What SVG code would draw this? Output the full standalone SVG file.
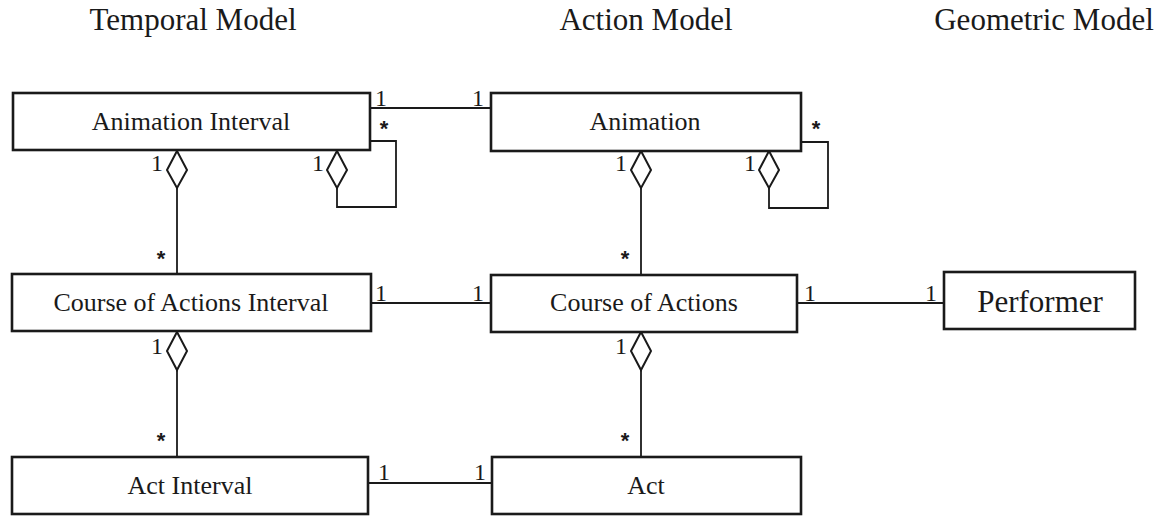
<svg xmlns="http://www.w3.org/2000/svg" width="1170" height="516" viewBox="0 0 1170 516">
  <style>
    .title { font-family: "Liberation Serif", "Times New Roman", serif; font-size: 31px; fill: #1a1a1a; text-anchor: middle; }
    .box rect { fill: #ffffff; stroke: #1a1a1a; stroke-width: 2.6; }
    .box text { font-family: "Liberation Serif", "Times New Roman", serif; font-size: 26px; fill: #1a1a1a; text-anchor: middle; }
    .big text { font-size: 31px; }
    .conn line, .conn polyline { fill: none; stroke: #1a1a1a; stroke-width: 1.8; }
    .conn polygon { fill: #ffffff; stroke: #1a1a1a; stroke-width: 2; }
    .mult { font-family: "Liberation Serif", "Times New Roman", serif; font-size: 24px; fill: #1a1a1a; text-anchor: middle; }
    .star { font-family: "Liberation Sans", Arial, sans-serif; font-size: 22px; font-weight: bold; fill: #1a1a1a; text-anchor: middle; }
  </style>
  <defs>
    <!-- aggregation diamond, top vertex at origin -->
    <polygon id="agg" points="0,0 10,19 0,37 -10,19"/>
  </defs>

  <rect width="1170" height="516" fill="#ffffff"/>

  <!-- column headings -->
  <text class="title" x="193" y="30">Temporal Model</text>
  <text class="title" x="646" y="30">Action Model</text>
  <text class="title" x="1044" y="30">Geometric Model</text>

  <!-- connectors -->
  <g id="connectors" class="conn">
    <!-- Animation Interval — Animation -->
    <line x1="370" y1="108" x2="491" y2="108"/>
    <!-- Animation Interval self aggregation -->
    <polyline points="370,141 396,141 396,207 337,207 337,188"/>
    <polygon points="337,151 347,170 337,188 327,170"/>
    <!-- Animation Interval ◇— Course of Actions Interval -->
    <line x1="177" y1="188" x2="177" y2="274"/>
    <polygon points="177,151 187,170 177,188 167,170"/>
    <!-- Animation self aggregation -->
    <polyline points="801,142 828,142 828,208 769,208 769,188"/>
    <polygon points="769,151 779,170 769,188 759,170"/>
    <!-- Animation ◇— Course of Actions -->
    <line x1="641" y1="188" x2="641" y2="275"/>
    <polygon points="641,151 651,170 641,188 631,170"/>
    <!-- Course of Actions Interval — Course of Actions -->
    <line x1="371" y1="303" x2="491" y2="303"/>
    <!-- Course of Actions — Performer -->
    <line x1="797" y1="303" x2="944" y2="303"/>
    <!-- Course of Actions Interval ◇— Act Interval -->
    <line x1="177" y1="370" x2="177" y2="457"/>
    <polygon points="177,332 187,351 177,370 167,351"/>
    <!-- Course of Actions ◇— Act -->
    <line x1="641" y1="370" x2="641" y2="457"/>
    <polygon points="641,332 651,351 641,370 631,351"/>
    <!-- Act Interval — Act -->
    <line x1="368" y1="483" x2="492" y2="483"/>

    <!-- multiplicities -->
    <text class="mult" x="381" y="106">1</text>
    <text class="mult" x="478" y="106">1</text>
    <text class="star" x="384" y="136">*</text>
    <text class="mult" x="318" y="171">1</text>
    <text class="mult" x="157" y="171">1</text>
    <text class="star" x="161" y="266">*</text>
    <text class="star" x="816" y="136">*</text>
    <text class="mult" x="750" y="171">1</text>
    <text class="mult" x="621" y="171">1</text>
    <text class="star" x="625" y="266">*</text>
    <text class="mult" x="381" y="301">1</text>
    <text class="mult" x="478" y="301">1</text>
    <text class="mult" x="810" y="301">1</text>
    <text class="mult" x="931" y="301">1</text>
    <text class="mult" x="157" y="354">1</text>
    <text class="mult" x="621" y="354">1</text>
    <text class="star" x="161" y="448">*</text>
    <text class="star" x="625" y="448">*</text>
    <text class="mult" x="384" y="480">1</text>
    <text class="mult" x="480" y="480">1</text>
  </g>

  <!-- classes -->
  <g id="animation-interval" class="box">
    <rect x="13" y="93" width="357" height="57"/>
    <text x="191" y="130">Animation Interval</text>
  </g>
  <g id="animation" class="box">
    <rect x="491" y="93" width="310" height="58"/>
    <text x="645" y="130">Animation</text>
  </g>
  <g id="course-of-actions-interval" class="box">
    <rect x="12" y="274" width="359" height="57"/>
    <text x="191" y="311">Course of Actions Interval</text>
  </g>
  <g id="course-of-actions" class="box">
    <rect x="491" y="275" width="306" height="57"/>
    <text x="644" y="311">Course of Actions</text>
  </g>
  <g id="performer" class="box big">
    <rect x="944" y="272" width="191" height="57"/>
    <text x="1040" y="312">Performer</text>
  </g>
  <g id="act-interval" class="box">
    <rect x="12" y="457" width="356" height="57"/>
    <text x="190" y="494">Act Interval</text>
  </g>
  <g id="act" class="box">
    <rect x="492" y="457" width="309" height="57"/>
    <text x="646" y="494">Act</text>
  </g>
</svg>
